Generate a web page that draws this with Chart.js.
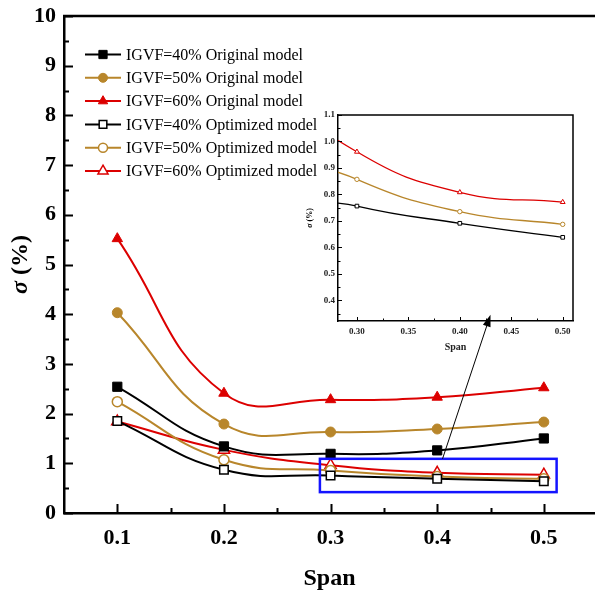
<!DOCTYPE html>
<html>
<head>
<meta charset="utf-8">
<script src="https://cdn.jsdelivr.net/npm/chart.js@4.4.1/dist/chart.umd.min.js"></script>
<style>
  html, body { margin: 0; padding: 0; background: #fff; }
  #wrap { position: relative; width: 595px; height: 591px; overflow: hidden; }
  #main { position: absolute; left: 0; top: 0; }
  #inset { position: absolute; left: 296px; top: 106px; }
</style>
</head>
<body>
<div id="wrap">
  <canvas id="main" width="595" height="591"></canvas>
  <canvas id="inset" width="290" height="255"></canvas>
</div>
<script>
// data
const spans = [0.1, 0.2, 0.3, 0.4, 0.5];
const orig40 = [2.54, 1.34, 1.19, 1.26, 1.50];
const orig50 = [4.03, 1.79, 1.63, 1.69, 1.83];
const orig60 = [5.52, 2.41, 2.28, 2.33, 2.52];
const opt40 = [1.85, 0.87, 0.756, 0.691, 0.638];
const opt50 = [2.24, 1.07, 0.857, 0.735, 0.687];
const opt60 = [1.84, 1.27, 0.961, 0.808, 0.771];
const seriesNames = [
    'IGVF=40% Original model', 'IGVF=50% Original model', 'IGVF=60% Original model',
    'IGVF=40% Optimized model', 'IGVF=50% Optimized model', 'IGVF=60% Optimized model'
];
const xTicks = [0.1, 0.2, 0.3, 0.4, 0.5];
const yTicks = [0, 1, 2, 3, 4, 5, 6, 7, 8, 9, 10];
const insetXTicks = [0.30, 0.35, 0.40, 0.45, 0.50];
const insetYTicks = [0.4, 0.5, 0.6, 0.7, 0.8, 0.9, 1.0, 1.1];
// zoom rectangle and arrow, in main chart data units
const zoomBox = { x0: 0.29, x1: 0.512, y0: 0.42, y1: 1.09 };
const arrowFrom = [0.405, 1.09];
const arrowTo = [0.45, 3.99];

const SERIF = "'Liberation Serif', 'Times New Roman', serif";
const BLACK = '#000000', GOLD = '#b8862b', RED = '#dc0000';

function pts(vals) {
    return spans.map((x, i) => ({ x: x, y: vals[i] }));
}

function makeSet(label, vals, color, style, filled, r, lw) {
    return {
        label: label,
        data: pts(vals),
        borderColor: color,
        backgroundColor: filled ? color : '#ffffff',
        borderWidth: lw,
        pointStyle: style,
        pointRadius: r,
        pointBorderColor: color,
        pointBackgroundColor: filled ? color : '#ffffff',
        pointBorderWidth: filled ? 1 : 1.5,
        tension: 0.45,
        clip: 0
    };
}

function drawInwardTicks(chart, xs, ys, lw) {
    const ctx = chart.ctx, a = chart.chartArea;
    const sx = chart.scales.x, sy = chart.scales.y;
    ctx.save();
    ctx.strokeStyle = '#000';
    ctx.lineWidth = lw;
    ctx.beginPath();
    xs.forEach(t => {
        const px = Math.round(sx.getPixelForValue(t.v)) + 0.5;
        ctx.moveTo(px, a.bottom);
        ctx.lineTo(px, a.bottom - t.len);
    });
    ys.forEach(t => {
        const py = Math.round(sy.getPixelForValue(t.v)) + 0.5;
        ctx.moveTo(a.left, py);
        ctx.lineTo(a.left + t.len, py);
    });
    ctx.stroke();
    ctx.restore();
}

function drawSigmaTitle(ctx, cx, cy, size) {
    ctx.save();
    ctx.translate(cx, cy);
    ctx.rotate(-Math.PI / 2);
    ctx.fillStyle = '#000';
    ctx.textBaseline = 'middle';
    const f1 = 'italic bold ' + size + 'px ' + SERIF;
    const f2 = 'bold ' + size + 'px ' + SERIF;
    ctx.font = f1;
    const w1 = ctx.measureText('σ').width;
    ctx.font = f2;
    const w2 = ctx.measureText(' (%)').width;
    let x = -(w1 + w2) / 2;
    ctx.font = f1;
    ctx.fillText('σ', x, 0);
    ctx.font = f2;
    ctx.fillText(' (%)', x + w1, 0);
    ctx.restore();
}

// keep the plot box exactly where the layout puts it
function noPadX(s) { s.paddingLeft = 0; s.paddingRight = 0; }
function noPadY(s) { s.paddingTop = 0; s.paddingBottom = 0; }

// main chart
const mainSets = [
    makeSet(seriesNames[0], orig40, BLACK, 'rect', true, 6.5, 2),
    makeSet(seriesNames[1], orig50, GOLD, 'circle', true, 5, 2),
    makeSet(seriesNames[2], orig60, RED, 'triangle', true, 6, 2),
    makeSet(seriesNames[3], opt40, BLACK, 'rect', false, 6, 2),
    makeSet(seriesNames[4], opt50, GOLD, 'circle', false, 5, 2),
    makeSet(seriesNames[5], opt60, RED, 'triangle', false, 6.5, 2)
];

const mainDecor = {
    id: 'mainDecor',
    afterDatasetsDraw(chart) {
        const ctx = chart.ctx, a = chart.chartArea;
        const sx = chart.scales.x, sy = chart.scales.y;

        // inward ticks
        const xt = [];
        xTicks.forEach(v => xt.push({ v: v, len: 9 }));
        [0.15, 0.25, 0.35, 0.45].forEach(v => xt.push({ v: v, len: 5 }));
        const yt = [];
        yTicks.forEach(v => yt.push({ v: v, len: 9 }));
        for (let v = 0.5; v < 10; v += 1) yt.push({ v: v, len: 5 });
        drawInwardTicks(chart, xt, yt, 2);

        // top border
        ctx.save();
        ctx.strokeStyle = '#000';
        ctx.lineWidth = 2.5;
        ctx.beginPath();
        ctx.moveTo(a.left - 1, a.top);
        ctx.lineTo(a.right, a.top);
        ctx.stroke();

        // zoom rectangle
        ctx.strokeStyle = '#1414ff';
        ctx.lineWidth = 2.5;
        const rx0 = sx.getPixelForValue(zoomBox.x0), rx1 = sx.getPixelForValue(zoomBox.x1);
        const ry0 = sy.getPixelForValue(zoomBox.y1), ry1 = sy.getPixelForValue(zoomBox.y0);
        ctx.strokeRect(rx0, ry0, rx1 - rx0, ry1 - ry0);

        // arrow to the inset
        const ax0 = sx.getPixelForValue(arrowFrom[0]), ay0 = sy.getPixelForValue(arrowFrom[1]);
        const ax1 = sx.getPixelForValue(arrowTo[0]), ay1 = sy.getPixelForValue(arrowTo[1]);
        const ang = Math.atan2(ay1 - ay0, ax1 - ax0);
        ctx.strokeStyle = '#000';
        ctx.lineWidth = 1;
        ctx.beginPath();
        ctx.moveTo(ax0, ay0);
        ctx.lineTo(ax1 - 8 * Math.cos(ang), ay1 - 8 * Math.sin(ang));
        ctx.stroke();
        ctx.fillStyle = '#000';
        ctx.beginPath();
        ctx.moveTo(ax1, ay1);
        ctx.lineTo(ax1 - 12 * Math.cos(ang) + 4 * Math.sin(ang), ay1 - 12 * Math.sin(ang) - 4 * Math.cos(ang));
        ctx.lineTo(ax1 - 12 * Math.cos(ang) - 4 * Math.sin(ang), ay1 - 12 * Math.sin(ang) + 4 * Math.cos(ang));
        ctx.closePath();
        ctx.fill();
        ctx.restore();

        // legend
        ctx.save();
        chart.data.datasets.forEach((ds, i) => {
            const y = 54.5 + i * 23.3;
            ctx.strokeStyle = ds.borderColor;
            ctx.lineWidth = 2;
            ctx.beginPath();
            ctx.moveTo(85, y);
            ctx.lineTo(121, y);
            ctx.stroke();
            ctx.fillStyle = ds.pointBackgroundColor;
            ctx.strokeStyle = ds.pointBorderColor;
            ctx.lineWidth = ds.pointBorderWidth;
            Chart.helpers.drawPoint(ctx, {
                pointStyle: ds.pointStyle,
                radius: ds.pointRadius * 0.9,
                borderWidth: ds.pointBorderWidth,
                rotation: 0
            }, 103, y);
            ctx.fillStyle = '#000';
            ctx.font = '16px ' + SERIF;
            ctx.textBaseline = 'middle';
            ctx.textAlign = 'left';
            ctx.fillText(ds.label, 126, y + 1);
        });
        ctx.restore();

        drawSigmaTitle(ctx, 21, (a.top + a.bottom) / 2, 24);
    }
};

new Chart(document.getElementById('main'), {
    type: 'line',
    data: { datasets: mainSets },
    options: {
        responsive: false,
        animation: false,
        layout: { autoPadding: false, padding: { top: 16, right: 0, left: 0, bottom: 0 } },
        plugins: { legend: { display: false }, tooltip: { enabled: false } },
        scales: {
            x: {
                type: 'linear', min: 0.05, max: 0.548,
                afterBuildTicks: s => { s.ticks = xTicks.map(v => ({ value: v })); },
                afterFit: s => { s.height = 78; noPadX(s); },
                grid: { display: false, drawTicks: false },
                border: { display: true, color: '#000', width: 2.5 },
                ticks: {
                    color: '#000', padding: 12, maxRotation: 0, autoSkip: false,
                    font: { family: SERIF, size: 22, weight: 'bold' },
                    callback: v => Number(v).toFixed(1)
                },
                title: {
                    display: true, text: 'Span', color: '#000',
                    font: { family: SERIF, size: 24, weight: 'bold' },
                    padding: { top: 0, bottom: -2 }
                }
            },
            y: {
                min: 0, max: 10,
                afterBuildTicks: s => { s.ticks = yTicks.map(v => ({ value: v })); },
                afterFit: s => { s.width = 64; noPadY(s); },
                grid: { display: false, drawTicks: false },
                border: { display: true, color: '#000', width: 2.5 },
                ticks: {
                    color: '#000', padding: 8, autoSkip: false,
                    font: { family: SERIF, size: 22, weight: 'bold' }
                }
            }
        }
    },
    plugins: [mainDecor]
});

// inset chart
const insetSets = [
    makeSet(seriesNames[3], opt40, BLACK, 'rect', false, 2.6, 1.3),
    makeSet(seriesNames[4], opt50, GOLD, 'circle', false, 2.2, 1.3),
    makeSet(seriesNames[5], opt60, RED, 'triangle', false, 2.8, 1.3)
];
insetSets.forEach(ds => { ds.pointBorderWidth = 1; });

const insetDecor = {
    id: 'insetDecor',
    afterDatasetsDraw(chart) {
        const ctx = chart.ctx, a = chart.chartArea;
        const xt = [];
        insetXTicks.forEach(v => xt.push({ v: v, len: 4 }));
        [0.325, 0.375, 0.425, 0.475].forEach(v => xt.push({ v: v, len: 2.5 }));
        const yt = [];
        insetYTicks.forEach(v => yt.push({ v: v, len: 4 }));
        [0.35, 0.45, 0.55, 0.65, 0.75, 0.85, 0.95, 1.05].forEach(v => yt.push({ v: v, len: 2.5 }));
        drawInwardTicks(chart, xt, yt, 1);

        ctx.save();
        ctx.strokeStyle = '#000';
        ctx.lineWidth = 1.5;
        ctx.beginPath();
        ctx.moveTo(a.left, a.top);
        ctx.lineTo(a.right, a.top);
        ctx.lineTo(a.right, a.bottom);
        ctx.stroke();
        ctx.restore();

        drawSigmaTitle(ctx, 14, (a.top + a.bottom) / 2, 8);
    }
};

new Chart(document.getElementById('inset'), {
    type: 'line',
    data: { datasets: insetSets },
    options: {
        responsive: false,
        animation: false,
        layout: { autoPadding: false, padding: { top: 9, right: 13, left: 0, bottom: 0 } },
        plugins: { legend: { display: false }, tooltip: { enabled: false } },
        scales: {
            x: {
                type: 'linear', min: 0.2816, max: 0.51,
                afterBuildTicks: s => { s.ticks = insetXTicks.map(v => ({ value: v })); },
                afterFit: s => { s.height = 40; noPadX(s); },
                grid: { display: false, drawTicks: false },
                border: { display: true, color: '#000', width: 1.5 },
                ticks: {
                    color: '#222', padding: 5, maxRotation: 0, autoSkip: false,
                    font: { family: SERIF, size: 9, weight: 'bold' },
                    callback: v => Number(v).toFixed(2)
                },
                title: {
                    display: true, text: 'Span', color: '#222',
                    font: { family: SERIF, size: 10, weight: 'bold' },
                    padding: { top: 0, bottom: 8 }
                }
            },
            y: {
                min: 0.322, max: 1.1,
                afterBuildTicks: s => { s.ticks = insetYTicks.map(v => ({ value: v })); },
                afterFit: s => { s.width = 42; noPadY(s); },
                grid: { display: false, drawTicks: false },
                border: { display: true, color: '#000', width: 1.5 },
                ticks: {
                    color: '#222', padding: 3, autoSkip: false,
                    font: { family: SERIF, size: 9, weight: 'bold' },
                    callback: v => Number(v).toFixed(1)
                }
            }
        }
    },
    plugins: [insetDecor]
});
</script>
</body>
</html>
